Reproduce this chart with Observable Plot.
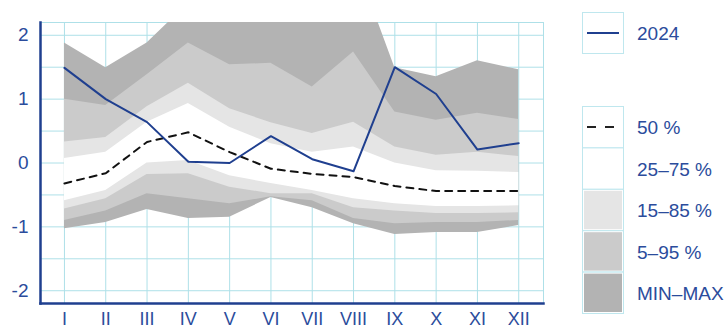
<!DOCTYPE html>
<html>
<head>
<meta charset="utf-8">
<script src="https://cdn.jsdelivr.net/npm/d3@7"></script>
<script src="https://cdn.jsdelivr.net/npm/@observablehq/plot@0.6"></script>
<style>
  html, body { margin: 0; padding: 0; background: #fff; }
  #wrap { position: relative; width: 725px; height: 329px; font-family: "Liberation Sans", Arial, sans-serif; }
  #chart { position: absolute; left: 0; top: 0; }
  #legend { position: absolute; left: 560px; top: 0; }
</style>
</head>
<body>
<div id="wrap"><div id="chart"></div><div id="legend"></div></div>
<script>
// ---- data ----
const months = [1, 2, 3, 4, 5, 6, 7, 8, 9, 10, 11, 12];
const monthLabels = ["I", "II", "III", "IV", "V", "VI", "VII", "VIII", "IX", "X", "XI", "XII"];
const minV = [-1.03, -0.93, -0.73, -0.87, -0.85, -0.54, -0.70, -0.95, -1.12, -1.09, -1.09, -0.98];
const p5   = [-0.90, -0.75, -0.48, -0.56, -0.64, -0.53, -0.59, -0.87, -0.95, -0.93, -0.93, -0.90];
const p15  = [-0.72, -0.56, -0.18, -0.17, -0.38, -0.48, -0.48, -0.70, -0.75, -0.79, -0.79, -0.78];
const p25  = [-0.59, -0.43,  0.00,  0.04, -0.20, -0.32, -0.43, -0.56, -0.64, -0.68, -0.68, -0.67];
const p50  = [-0.32, -0.16,  0.33,  0.48,  0.17, -0.09, -0.17, -0.22, -0.36, -0.44, -0.44, -0.44];
const p75  = [ 0.07,  0.17,  0.64,  0.93,  0.56,  0.30,  0.17,  0.25,  0.00, -0.12, -0.13, -0.15];
const p85  = [ 0.33,  0.40,  0.88,  1.25,  0.85,  0.63,  0.46,  0.64,  0.25,  0.12,  0.17,  0.10];
const p95  = [ 1.00,  0.90,  1.38,  1.88,  1.54,  1.56,  1.19,  1.74,  0.80,  0.67,  0.78,  0.68];
const maxV = [ 1.88,  1.49,  1.88,  2.50,  2.60,  2.80,  2.70,  3.25,  1.49,  1.35,  1.60,  1.46];
const y2024 = [1.49,  1.00,  0.64,  0.02,  0.00,  0.42,  0.06, -0.13,  1.50,  1.08,  0.21,  0.31];
const yTickValues = [-2, -1, 0, 1, 2];
const yGridValues = [-2, -1.5, -1, -0.5, 0, 0.5, 1, 1.5, 2];
const legendLine = ["2024"];
const legendBands = ["50 %", "25\u201375 %", "15\u201385 %", "5\u201395 %", "MIN\u2013MAX"];

const table = months.map((m, i) => ({
  m, min: minV[i], p5: p5[i], p15: p15[i], p25: p25[i], p50: p50[i],
  p75: p75[i], p85: p85[i], p95: p95[i], max: maxV[i], v: y2024[i]
}));

const gridColor = "#aee0e8";
const axisBlue = "#1f3f8f";
const textBlue = "#2b4c9c";
const cDark = "#b3b3b3", cMid = "#cbcbcb", cLight = "#e5e5e5";
const fs = 19;

const plot = Plot.plot({
  width: 560,
  height: 329,
  marginLeft: 40,
  marginRight: 17,
  marginTop: 22,
  marginBottom: 26,
  style: { fontFamily: "Liberation Sans, Arial, sans-serif", fontSize: fs + "px", color: textBlue, background: "#fff" },
  x: { domain: [0.42, 12.6], ticks: months, tickFormat: (d) => monthLabels[d - 1], tickSize: 0, tickPadding: 9, label: null },
  y: { domain: [-2.2, 2.2], ticks: yTickValues, tickFormat: (d) => String(d), tickSize: 0, tickPadding: 12, label: null },
  marks: [
    Plot.ruleY(yGridValues, { stroke: gridColor, strokeWidth: 1 }),
    Plot.ruleX(months, { stroke: gridColor, strokeWidth: 1 }),
    Plot.frame({ stroke: gridColor, strokeWidth: 1 }),
    Plot.areaY(table, { x: "m", y1: "min", y2: "max", fill: cDark, clip: true }),
    Plot.areaY(table, { x: "m", y1: "p5", y2: "p95", fill: cMid, clip: true }),
    Plot.areaY(table, { x: "m", y1: "p15", y2: "p85", fill: cLight, clip: true }),
    Plot.areaY(table, { x: "m", y1: "p25", y2: "p75", fill: "#ffffff", clip: true }),
    Plot.lineY(table, { x: "m", y: "p50", stroke: "#111", strokeWidth: 2, strokeDasharray: "7,6", clip: true }),
    Plot.lineY(table, { x: "m", y: "v", stroke: axisBlue, strokeWidth: 2, clip: true }),
    Plot.frame({ anchor: "left", stroke: axisBlue, strokeWidth: 2.5 }),
    Plot.frame({ anchor: "bottom", stroke: axisBlue, strokeWidth: 2.5 })
  ]
});
d3.select(plot).selectAll("text").attr("fill", textBlue);
// x-axis labels: slightly smaller so they fit the bottom edge
d3.select(plot).selectAll("text").filter(function () {
  return monthLabels.includes(this.textContent);
}).style("font-size", "18px");
document.getElementById("chart").appendChild(plot);

// ---- legend ----
const lg = d3.select("#legend").append("svg").attr("width", 165).attr("height", 329)
  .style("font-family", "Liberation Sans, Arial, sans-serif");
const bx = 22, bw = 41;
// 2024 box
lg.append("rect").attr("x", bx + 0.5).attr("y", 12.5).attr("width", bw).attr("height", 41)
  .attr("fill", "#fff").attr("stroke", "#bfe7ee");
lg.append("line").attr("x1", bx + 5).attr("x2", bx + 37).attr("y1", 33).attr("y2", 33)
  .attr("stroke", axisBlue).attr("stroke-width", 2);
lg.append("text").attr("x", 77).attr("y", 33).attr("dy", "0.35em").attr("font-size", fs)
  .attr("fill", textBlue).text(legendLine[0]);
// band boxes
const fills = ["#fff", "#fff", cLight, cMid, cDark];
const top0 = 106, bh = 41.4;
legendBands.forEach((lab, i) => {
  const y = top0 + i * bh;
  lg.append("rect").attr("x", bx + 0.5).attr("y", y + 0.5).attr("width", bw).attr("height", bh)
    .attr("fill", "#fff").attr("stroke", "#bfe7ee");
  lg.append("rect").attr("x", bx + 2).attr("y", y + 2).attr("width", bw - 3).attr("height", bh - 3)
    .attr("fill", fills[i]);
  lg.append("text").attr("x", 77).attr("y", y + bh / 2 + 1).attr("dy", "0.35em").attr("font-size", fs)
    .attr("fill", textBlue).text(lab);
});
lg.append("line").attr("x1", bx + 5).attr("x2", bx + 33).attr("y1", top0 + 21).attr("y2", top0 + 21)
  .attr("stroke", "#222").attr("stroke-width", 2).attr("stroke-dasharray", "9,9");
</script>
</body>
</html>
